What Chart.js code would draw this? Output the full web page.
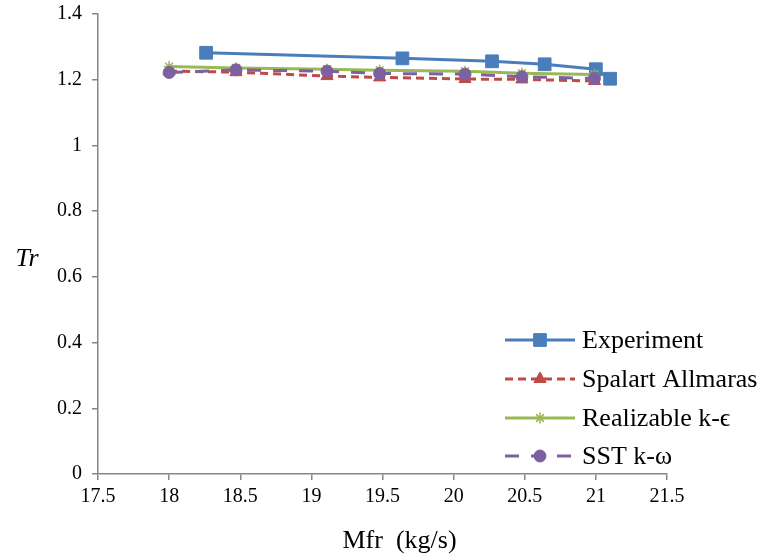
<!DOCTYPE html>
<html>
<head>
<meta charset="utf-8">
<script src="https://cdn.jsdelivr.net/npm/chart.js@4/dist/chart.umd.min.js"></script>
<style>
  html, body { margin: 0; padding: 0; background: #ffffff; }
  #wrap { width: 762px; height: 556px; position: relative; }
  canvas { display: block; }
</style>
</head>
<body>
<div id="wrap"><canvas id="chart" width="762" height="556"></canvas></div>
<script>
// Mass flow rate (kg/s) vs total pressure ratio Tr
const seriesNames = ['Experiment', 'Spalart Allmaras', 'Realizable k-\u03F5', 'SST k-\u03C9'];

const expMfr = [18.26, 19.64, 20.27, 20.64, 21.00, 21.10];
const expTr  = [1.282, 1.265, 1.256, 1.247, 1.232, 1.203];

const cfdMfr = [18.00, 18.47, 19.11, 19.48, 20.08, 20.48, 20.99];
const saTr   = [1.226, 1.223, 1.211, 1.207, 1.202, 1.201, 1.196];
const rkeTr  = [1.240, 1.236, 1.232, 1.229, 1.226, 1.220, 1.216];
const sstTr  = [1.222, 1.230, 1.226, 1.219, 1.217, 1.209, 1.204];

const xMin = 17.5, xMax = 21.5, xStep = 0.5;
const yMin = 0, yMax = 1.4, yStep = 0.2;

const FONT = '"Liberation Serif", "Times New Roman", serif';
const AXIS_GREY = '#868686';

function pts(xs, ys) { return xs.map((x, i) => ({ x: x, y: ys[i] })); }

const datasets = [
  { label: seriesNames[0], data: pts(expMfr, expTr), borderColor: '#4A7EBB', backgroundColor: '#4A7EBB',
    borderWidth: 3, pointStyle: 'rect', pointRadius: 9, pointBorderWidth: 1, order: 3 },
  { label: seriesNames[1], data: pts(cfdMfr, saTr), borderColor: '#BE4B48', backgroundColor: '#BE4B48',
    borderWidth: 3, borderDash: [8, 5], pointStyle: 'triangle', pointRadius: 7, pointBorderWidth: 1, order: 2 },
  { label: seriesNames[2], data: pts(cfdMfr, rkeTr), borderColor: '#98B954', backgroundColor: '#98B954',
    borderWidth: 3, pointStyle: 'star', pointRadius: 5.5, pointBorderWidth: 1.5, order: 1 },
  { label: seriesNames[3], data: pts(cfdMfr, sstTr), borderColor: '#7D60A0', backgroundColor: '#7D60A0',
    borderWidth: 3, borderDash: [14, 12], pointStyle: 'circle', pointRadius: 6, pointBorderWidth: 1, order: 0 }
];
datasets.forEach(d => { d.tension = 0; d.fill = false; d.showLine = true; d.pointBorderColor = d.borderColor; });

// Axis titles drawn horizontally, Tr beside the value axis
const axisTitles = {
  id: 'axisTitles',
  afterDraw(chart) {
    const ctx = chart.ctx, a = chart.chartArea;
    ctx.save();
    ctx.fillStyle = '#000';
    ctx.textAlign = 'center';
    ctx.textBaseline = 'middle';
    ctx.font = 'italic 26px ' + FONT;
    ctx.fillText('Tr', a.left - 71, (a.top + a.bottom) / 2 + 15);
    ctx.font = '26px ' + FONT;
    ctx.fillText('Mfr  (kg/s)', (a.left + a.right) / 2 + 17, a.bottom + 67);
    ctx.restore();
  }
};

// Legend in the lower right of the plot: line sample, marker, label
const lineLegend = {
  id: 'lineLegend',
  afterDraw(chart) {
    const ctx = chart.ctx, a = chart.chartArea;
    const x0 = a.right - 162, x1 = a.right - 92, textX = a.right - 85;
    const rowY = [a.bottom - 134, a.bottom - 95, a.bottom - 56, a.bottom - 18];
    ctx.save();
    chart.data.datasets.forEach((d, i) => {
      const y = rowY[i];
      ctx.strokeStyle = d.borderColor;
      ctx.lineWidth = d.borderWidth;
      ctx.setLineDash(d.borderDash || []);
      ctx.beginPath();
      ctx.moveTo(x0, y);
      ctx.lineTo(x1, y);
      ctx.stroke();
      ctx.setLineDash([]);
      ctx.fillStyle = d.backgroundColor;
      ctx.strokeStyle = d.borderColor;
      ctx.lineWidth = d.pointBorderWidth;
      Chart.helpers.drawPoint(ctx, {
        pointStyle: d.pointStyle, radius: d.pointRadius, borderWidth: d.pointBorderWidth, rotation: 0
      }, (x0 + x1) / 2, y);
      ctx.fillStyle = '#000';
      ctx.font = '26px ' + FONT;
      ctx.textAlign = 'left';
      ctx.textBaseline = 'middle';
      ctx.fillText(d.label, textX, y + 1);
    });
    ctx.restore();
  }
};

function fmt(v) { return String(Number(v.toFixed(1))); }

new Chart(document.getElementById('chart'), {
  type: 'scatter',
  data: { datasets: datasets },
  options: {
    responsive: false,
    animation: false,
    devicePixelRatio: 1,
    layout: { padding: { left: 0, top: 14, right: 95, bottom: 0 } },
    plugins: { legend: { display: false }, tooltip: { enabled: false } },
    elements: { point: { hoverRadius: 6 } },
    scales: {
      x: {
        type: 'linear', min: xMin, max: xMax,
        ticks: { stepSize: xStep, color: '#000', font: { family: FONT, size: 20 }, padding: 5, maxRotation: 0, callback: fmt },
        grid: { display: true, drawOnChartArea: false, drawTicks: true, tickLength: 6, color: AXIS_GREY, lineWidth: 1.5 },
        border: { display: true, color: AXIS_GREY, width: 1.5 },
        afterFit(s) { s.height = 82; s.paddingLeft = 0; s.paddingRight = 0; }
      },
      y: {
        type: 'linear', min: yMin, max: yMax,
        ticks: { stepSize: yStep, color: '#000', font: { family: FONT, size: 20 }, padding: 10, callback: fmt },
        grid: { display: true, drawOnChartArea: false, drawTicks: true, tickLength: 6, color: AXIS_GREY, lineWidth: 1.5 },
        border: { display: true, color: AXIS_GREY, width: 1.5 },
        afterFit(s) { s.width = 98; s.paddingTop = 0; s.paddingBottom = 0; }
      }
    }
  },
  plugins: [axisTitles, lineLegend]
});
</script>
</body>
</html>
